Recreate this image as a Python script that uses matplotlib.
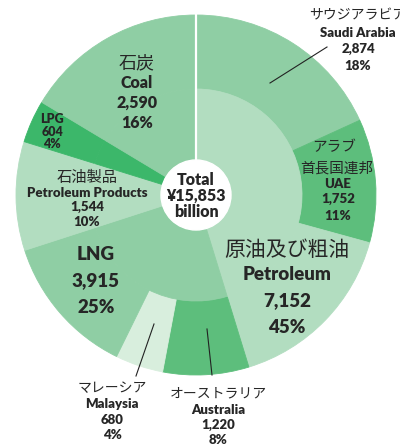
import matplotlib.pyplot as plt

# inner ring: energy type, clockwise from 12 o'clock
cat_jp = ['原油及び粗油', '', '石油製品', '', '石炭']
cat_en = ['Petroleum', 'LNG', 'Petroleum Products', 'LPG', 'Coal']
cat_val = [7152, 3915, 1544, 604, 2590]

# outer ring: countries (rest of each type shown as the type itself)
sub_jp = ['サウジアラビア', 'アラブ\n首長国連邦', '', 'オーストラリア', 'マレーシア', '', '', '', '']
sub_en = ['Saudi Arabia', 'UAE', 'Petroleum (other)', 'Australia', 'Malaysia',
          'LNG (other)', 'Petroleum Products', 'LPG', 'Coal']
sub_val = [2874, 1752, 7152 - 2874 - 1752, 1220, 680, 3915 - 1220 - 680, 1544, 604, 2590]

total = sum(cat_val)

light = '#b2ddc0'
mid = '#8fcea4'
dark = '#5dbe7c'
cat_colors = [light, mid, light, '#3cb76a', mid]
sub_colors = [mid, dark, light, dark, '#d8eedd', mid, light, '#3cb76a', mid]

H = 448
cx, cy = 196, H - 195
R_out, R_mid, R_in = 180, 106, 35

fig = plt.figure(figsize=(4, 4.48), dpi=100)
ax = fig.add_axes([0, 0, 1, 1])

ax.pie(sub_val, radius=R_out, center=(cx, cy), startangle=90, counterclock=False,
       colors=sub_colors,
       wedgeprops=dict(width=R_out - R_mid, linewidth=0.6))
ax.pie(cat_val, radius=R_mid, center=(cx, cy), startangle=90, counterclock=False,
       colors=cat_colors,
       wedgeprops=dict(width=R_mid - R_in, linewidth=0.6))
# fill seams
for wl in ax.patches:
    wl.set_edgecolor(wl.get_facecolor())
# white gap at 12 o'clock
ax.plot([cx, cx], [cy + R_in, cy + R_out], color='white', lw=1.6)
ax.add_patch(plt.Circle((cx, cy), R_in, color='white'))

ax.set_xlim(0, 400)
ax.set_ylim(0, H)
ax.set_aspect('equal')
ax.axis('off')

txt = '#262626'
jp_font = ['Noto Sans CJK JP', 'DejaVu Sans']
en_font = ['Lato', 'DejaVu Sans']


def pct(v):
    return '{:.0f}%'.format(v / total * 100)


def put(x, y, s, size, bold=True, jp=False):
    ax.text(x, H - y, s, ha='center', va='center', fontsize=size, color=txt,
            fontweight='heavy' if bold else 'normal',
            family=jp_font if jp else en_font)


def label(x, ys, jp, en, val, size, jp_size=None):
    lines = []
    if jp:
        lines.append((jp, True))
    lines += [(en, False), ('{:,}'.format(val), False), (pct(val), False)]
    for y, (s, isjp) in zip(ys, lines):
        put(x, y, s, jp_size if (isjp and jp_size) else size, bold=not isjp, jp=isjp)


# inner categories
label(287, [250, 274, 301, 327], cat_jp[0], cat_en[0], cat_val[0], 13.5, 15)
label(96, [254, 281, 307], '', cat_en[1], cat_val[1], 13.5)
label(87, [177, 193, 207, 222], cat_jp[2], cat_en[2], cat_val[2], 9.5, 11)
label(52, [119, 132, 144], '', cat_en[3], cat_val[3], 9)
label(137, [63, 83, 103, 123], cat_jp[4], cat_en[4], cat_val[4], 11.5, 13)

# countries
label(358, [15, 33, 49, 66], sub_jp[0], sub_en[0], sub_val[0], 9.5, 10)
put(334, 147, 'アラブ', 10.5, bold=False, jp=True)
put(337, 169, '首長国連邦', 10.5, bold=False, jp=True)
label(338, [184, 199, 216], '', sub_en[1], sub_val[1], 9.5)
label(218, [393, 410, 425, 440], sub_jp[3], sub_en[3], sub_val[3], 9.5, 10)
label(112, [388, 404, 420, 435], sub_jp[4], sub_en[4], sub_val[4], 9.5, 10)

# leader lines
ax.plot([270, 327], [H - 83, H - 47], color='#222222', lw=0.8)
ax.plot([207, 212], [H - 329, H - 375], color='#222222', lw=0.8)
ax.plot([154, 136], [H - 324, H - 376], color='#222222', lw=0.8)

# centre text
put(cx, 180, 'Total', 11.5)
put(cx, 196, '¥15,853', 11.5)
put(cx, 212, 'billion', 11.5)

plt.savefig('out.png', dpi=100)
